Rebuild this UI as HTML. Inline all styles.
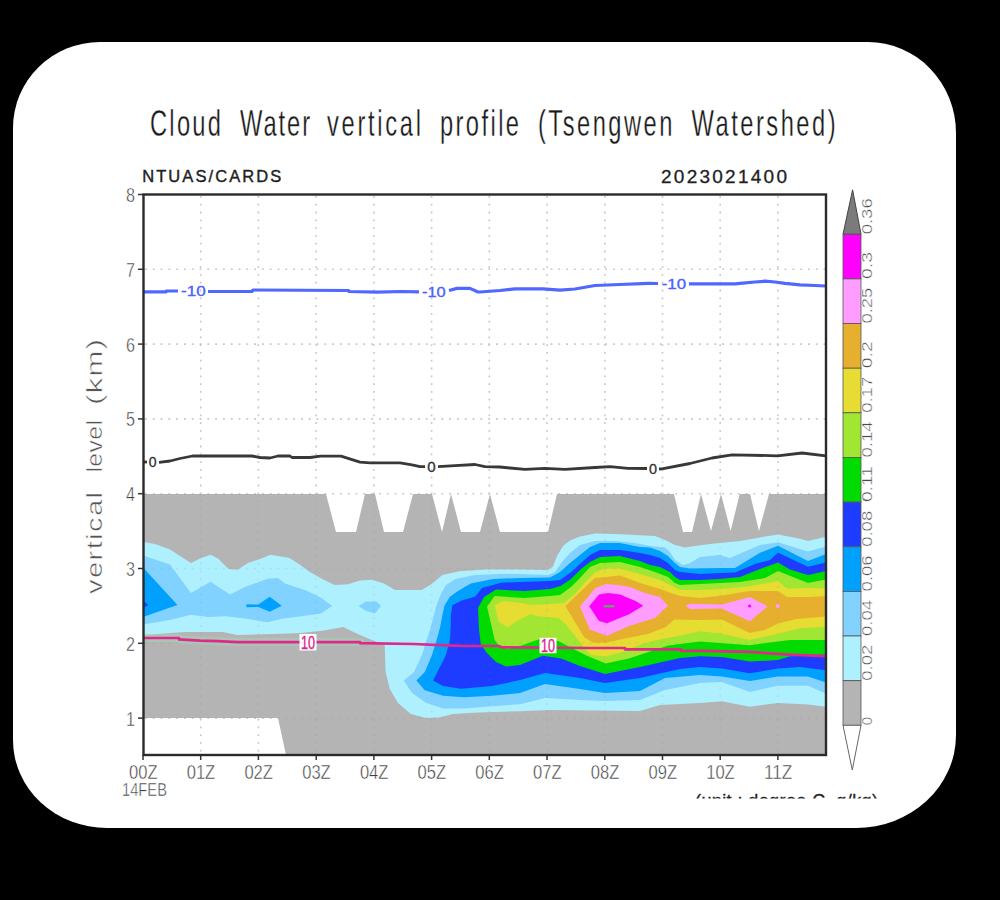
<!DOCTYPE html>
<html><head><meta charset="utf-8"><style>
html,body{margin:0;padding:0;background:#000;width:1000px;height:900px;overflow:hidden}
#card{position:absolute;left:13px;top:42px;width:943px;height:786px;background:#fff;border-radius:87px 88px 100px 94px / 86px 91px 93px 88px}
svg{position:absolute;left:0;top:0}
text{font-family:"Liberation Sans",sans-serif}
</style></head><body>
<div id="card"></div>
<svg width="1000" height="900" viewBox="0 0 1000 900">
<g stroke="#d6d6d6" stroke-width="1.6" stroke-dasharray="1.8 6" ><line x1="200.7" y1="196" x2="200.7" y2="754" /><line x1="258.4" y1="196" x2="258.4" y2="754" /><line x1="316.2" y1="196" x2="316.2" y2="754" /><line x1="373.9" y1="196" x2="373.9" y2="754" /><line x1="431.6" y1="196" x2="431.6" y2="754" /><line x1="489.3" y1="196" x2="489.3" y2="754" /><line x1="547.0" y1="196" x2="547.0" y2="754" /><line x1="604.8" y1="196" x2="604.8" y2="754" /><line x1="662.5" y1="196" x2="662.5" y2="754" /><line x1="720.2" y1="196" x2="720.2" y2="754" /><line x1="777.9" y1="196" x2="777.9" y2="754" /><line x1="145" y1="718.1" x2="825" y2="718.1" /><line x1="145" y1="643.3" x2="825" y2="643.3" /><line x1="145" y1="568.5" x2="825" y2="568.5" /><line x1="145" y1="493.7" x2="825" y2="493.7" /><line x1="145" y1="418.9" x2="825" y2="418.9" /><line x1="145" y1="344.1" x2="825" y2="344.1" /><line x1="145" y1="269.3" x2="825" y2="269.3" /></g>
<polygon points="143.0,494.0 326.0,494.0 336.0,532.0 356.0,532.0 365.0,494.0 375.0,494.0 384.0,532.0 403.0,532.0 413.0,494.0 432.0,494.0 442.0,532.0 451.0,494.0 461.0,532.0 480.0,532.0 490.0,494.0 500.0,532.0 548.0,532.0 557.0,494.0 674.0,494.0 683.0,532.0 692.0,532.0 701.0,494.0 711.0,531.0 721.0,494.0 730.6,531.0 739.7,494.0 750.0,494.0 759.0,531.0 769.0,494.0 826.0,494.0 826.0,755.0 286.0,755.0 278.0,718.0 143.0,718.0" fill="#b4b4b4"/>
<polygon points="143.0,542.0 155.0,544.0 170.0,549.5 191.0,563.0 200.0,558.5 210.5,554.7 218.0,558.5 228.5,569.0 237.5,569.7 248.0,563.0 260.0,559.0 270.4,554.7 289.5,558.0 300.0,564.7 309.0,571.5 319.5,577.5 334.5,585.0 348.0,584.2 360.0,580.5 372.0,579.7 384.0,583.5 395.0,590.0 421.6,590.0 431.0,584.6 442.4,575.0 459.4,571.3 486.0,569.5 520.0,569.5 548.0,570.0 553.0,566.5 557.0,556.0 563.0,546.0 570.0,540.5 580.0,536.5 595.0,533.5 615.0,534.0 635.0,535.0 655.0,536.0 665.0,540.0 675.0,545.0 685.0,547.5 695.0,546.0 710.0,544.0 720.0,543.0 740.0,541.0 760.0,537.4 778.0,534.6 800.0,538.8 808.0,541.0 826.0,536.7 826.0,706.7 808.0,704.4 777.8,702.9 749.8,706.7 721.8,701.3 700.0,703.0 660.0,705.0 640.0,711.0 550.0,710.0 520.0,711.2 478.0,712.6 453.0,714.0 439.0,717.5 426.0,718.0 410.8,714.0 398.0,703.0 389.8,689.0 385.6,672.0 384.7,645.0 367.5,638.2 355.5,633.0 343.5,627.0 322.5,630.7 300.0,633.0 290.0,633.4 237.5,635.0 222.5,632.0 185.0,632.0 143.0,635.0" fill="#aff0ff"/>
<polygon points="143.0,555.5 170.0,564.5 191.0,593.0 210.5,581.7 230.0,594.5 245.0,587.0 267.4,578.7 278.0,578.0 285.0,583.5 307.5,591.0 321.0,597.7 332.2,606.0 321.0,613.5 300.0,616.5 282.0,618.7 267.4,622.2 245.0,618.5 225.5,616.2 207.5,617.0 191.0,614.7 170.0,620.0 143.0,624.5" fill="#82d2ff"/>
<polygon points="358.5,606.0 366.0,601.5 376.4,601.5 381.0,606.0 375.0,613.5 366.0,611.0" fill="#82d2ff"/>
<polygon points="433.7,616.0 436.8,604.5 440.7,594.3 446.0,585.0 455.6,578.9 474.5,575.0 500.0,574.0 520.0,574.0 548.0,575.0 555.0,572.0 562.0,562.0 570.0,553.0 580.0,545.0 595.0,541.0 615.0,541.0 635.0,543.0 650.0,546.0 665.0,547.5 670.0,552.0 675.0,560.0 683.0,565.0 690.0,563.0 700.0,557.0 720.0,555.0 730.0,558.0 760.0,545.0 778.0,542.3 808.0,551.4 826.0,546.5 826.0,693.5 808.0,685.8 777.8,685.8 749.8,692.0 721.8,681.9 700.0,683.0 665.0,690.0 640.0,700.0 605.0,701.0 580.0,700.0 545.0,698.0 520.0,704.2 492.0,706.3 464.0,708.4 443.0,708.4 426.0,702.8 412.0,693.0 403.8,680.4 414.0,672.0 422.0,655.0 426.7,639.5 430.6,627.8" fill="#82d2ff"/>
<polygon points="143.0,567.5 177.5,605.0 143.0,617.0" fill="#00a0ff"/>
<polygon points="246.4,604.2 258.4,604.5 269.7,596.7 281.7,605.7 269.7,611.7 258.4,607.0 246.4,607.2" fill="#00a0ff"/>
<polygon points="442.2,616.0 444.6,605.2 450.0,596.7 458.0,591.0 470.7,583.5 493.4,578.9 520.0,578.0 550.0,577.5 560.0,572.0 570.0,563.0 580.0,555.0 590.0,547.0 600.0,543.0 620.0,543.0 640.0,547.0 650.0,547.5 660.0,551.0 668.0,556.0 675.0,563.0 680.0,567.0 690.0,568.5 720.0,568.0 735.0,568.0 760.0,552.8 778.0,545.8 808.0,561.0 826.0,554.0 826.0,682.6 808.0,676.4 777.8,676.4 749.8,681.0 721.8,676.4 700.0,675.0 665.0,678.0 640.0,691.0 605.0,693.0 580.0,689.0 545.0,684.0 520.0,693.0 492.0,695.8 464.0,697.2 443.0,695.8 424.8,690.2 416.4,680.4 424.8,672.0 432.0,655.0 436.8,639.5 440.0,627.8" fill="#00a0ff"/>
<polygon points="143.0,600.5 148.2,605.0 143.0,608.0" fill="#1e3cff"/>
<polygon points="450.8,616.0 452.4,605.2 461.7,600.6 475.0,596.7 482.0,588.0 501.0,582.7 520.0,582.0 550.0,581.0 560.0,580.0 570.0,573.0 580.0,564.0 590.0,555.0 600.0,550.0 620.0,550.0 640.0,553.0 650.0,555.0 660.0,558.0 668.0,563.0 675.0,570.0 680.0,572.0 700.0,574.0 720.0,573.0 735.0,572.4 755.0,564.0 770.0,560.0 778.0,552.8 808.0,566.8 826.0,562.6 826.0,670.2 800.0,667.0 777.8,668.6 749.8,673.3 721.8,668.6 700.0,667.0 680.0,669.0 640.0,678.0 605.0,683.0 580.0,678.0 545.0,673.0 520.0,680.0 492.0,686.0 461.0,688.8 443.0,686.0 433.2,680.4 446.0,655.0 450.0,639.5 450.8,625.0" fill="#1e3cff"/>
<polygon points="478.0,608.0 484.0,597.0 496.0,589.5 524.6,591.0 550.0,589.0 560.5,586.0 571.0,579.0 581.0,569.0 590.0,562.0 600.0,557.0 620.0,556.0 640.0,561.0 650.0,565.0 660.0,567.0 670.0,572.0 675.0,577.0 680.0,580.0 700.0,580.0 720.0,579.0 740.0,577.0 760.0,569.0 778.0,562.6 790.0,569.6 808.0,575.0 826.0,571.0 826.0,654.6 790.0,656.2 777.8,660.0 749.8,661.6 721.8,657.0 700.0,656.2 680.0,658.0 640.0,667.0 605.0,674.0 580.0,666.0 561.0,658.4 542.8,655.8 520.0,665.0 506.0,666.4 496.0,662.0 486.4,652.4 480.8,644.0 479.0,630.0" fill="#00dc00"/>
<polygon points="487.0,606.4 494.7,596.0 524.6,598.0 550.0,596.0 560.0,595.0 571.0,587.0 580.0,578.0 590.0,567.0 600.0,563.0 620.0,562.0 640.0,567.0 655.0,572.0 668.0,577.0 675.0,583.0 680.0,585.0 700.0,584.0 740.0,582.0 765.0,578.0 778.0,571.0 808.0,583.0 826.0,579.4 826.0,639.9 790.0,639.9 777.8,641.4 749.8,645.3 700.0,641.4 668.0,645.4 648.5,652.0 629.0,658.4 605.6,663.6 587.0,655.8 574.0,649.3 558.4,641.0 540.0,639.0 520.0,646.0 509.0,649.0 500.0,647.0 494.7,640.0" fill="#a0e632"/>
<polygon points="494.7,605.0 503.8,601.0 522.0,603.0 529.8,605.0 550.0,604.0 564.0,603.0 574.5,594.4 585.0,582.5 595.5,572.0 606.0,568.5 620.0,568.5 640.0,574.0 660.0,580.0 670.0,585.0 680.0,590.0 700.0,590.0 721.8,589.0 749.8,586.2 777.8,581.0 787.0,588.6 808.0,588.0 826.0,588.5 826.0,626.7 800.0,628.2 777.8,633.7 749.8,639.9 721.8,633.7 700.0,631.3 673.2,637.0 661.5,639.0 642.0,644.0 622.5,652.0 605.6,656.5 590.0,654.5 584.4,648.0 566.0,624.6 558.4,618.0 537.6,616.2 529.8,614.2 515.5,622.0 507.7,627.2 498.6,622.0" fill="#e6dc32"/>
<polygon points="565.4,606.3 580.0,592.0 595.0,578.0 606.0,577.0 620.0,575.5 640.0,583.0 660.0,589.0 668.0,592.0 680.0,596.0 700.0,598.0 721.8,595.5 749.8,590.9 777.8,590.9 787.0,597.1 808.9,597.0 826.0,596.3 826.0,616.5 796.4,618.9 777.8,623.5 765.3,629.8 749.8,632.9 721.8,619.5 700.0,620.0 674.5,619.4 665.4,627.2 648.5,633.7 622.5,639.0 605.6,642.8 593.5,642.8 584.4,637.6 575.0,622.0" fill="#e6af2d"/>
<polygon points="580.0,606.3 595.5,588.0 606.0,584.0 620.0,585.3 630.0,587.0 645.0,593.0 660.0,597.0 668.0,605.8 655.0,618.0 629.0,626.0 607.0,635.7 590.0,629.8 584.0,616.0" fill="#ff9cff"/>
<polygon points="685.6,605.8 690.0,603.8 721.8,604.5 749.8,597.1 767.7,606.4 749.8,621.2 721.8,608.5 690.0,609.0" fill="#ff9cff"/>
<circle cx="777.8" cy="606" r="2" fill="#ff9cff"/>
<polygon points="589.2,606.3 599.0,594.4 608.0,593.0 620.0,594.4 635.5,601.0 643.3,605.8 629.0,614.2 607.0,623.3 599.0,621.0" fill="#ff00ff"/>
<circle cx="749.6" cy="606" r="1.6" fill="#ff00ff"/>
<rect x="603.5" y="605" width="11" height="2.6" rx="1.2" fill="#6f9872"/>
<g stroke="#808080" stroke-width="1.6" stroke-dasharray="1.8 6" opacity="0.15"><line x1="200.7" y1="196" x2="200.7" y2="754" /><line x1="258.4" y1="196" x2="258.4" y2="754" /><line x1="316.2" y1="196" x2="316.2" y2="754" /><line x1="373.9" y1="196" x2="373.9" y2="754" /><line x1="431.6" y1="196" x2="431.6" y2="754" /><line x1="489.3" y1="196" x2="489.3" y2="754" /><line x1="547.0" y1="196" x2="547.0" y2="754" /><line x1="604.8" y1="196" x2="604.8" y2="754" /><line x1="662.5" y1="196" x2="662.5" y2="754" /><line x1="720.2" y1="196" x2="720.2" y2="754" /><line x1="777.9" y1="196" x2="777.9" y2="754" /><line x1="145" y1="718.1" x2="825" y2="718.1" /><line x1="145" y1="643.3" x2="825" y2="643.3" /><line x1="145" y1="568.5" x2="825" y2="568.5" /><line x1="145" y1="493.7" x2="825" y2="493.7" /><line x1="145" y1="418.9" x2="825" y2="418.9" /><line x1="145" y1="344.1" x2="825" y2="344.1" /><line x1="145" y1="269.3" x2="825" y2="269.3" /></g>
<polyline points="143.0,291.9 166.0,291.9 166.0,291.0 178.0,291.0" fill="none" stroke="#5068ff" stroke-width="3.2" stroke-linejoin="round"/>
<polyline points="208.0,291.5 252.0,291.5 253.0,290.0 348.5,290.5 349.0,291.5 378.0,292.2 401.0,291.5 419.0,291.9" fill="none" stroke="#5068ff" stroke-width="3.2" stroke-linejoin="round"/>
<polyline points="449.0,290.5 457.0,288.4 470.0,288.4 478.0,292.0 480.0,292.0 500.0,290.5 515.0,288.8 543.0,288.8 560.0,290.2 575.0,289.0 595.0,285.5 620.0,284.5 648.0,283.3 658.0,283.5" fill="none" stroke="#5068ff" stroke-width="3.2" stroke-linejoin="round"/>
<polyline points="689.0,283.9 735.0,283.9 740.0,283.4 755.0,282.0 765.0,281.2 775.0,282.0 785.0,283.4 800.0,284.8 815.0,285.5 826.0,286.0" fill="none" stroke="#5068ff" stroke-width="3.2" stroke-linejoin="round"/>
<polyline points="143.0,462.0 147.0,462.0" fill="none" stroke="#383838" stroke-width="2.8" stroke-linejoin="round"/>
<polyline points="159.0,462.3 170.0,461.0 180.0,458.5 192.5,456.0 252.0,456.0 260.0,457.5 270.0,458.0 278.0,456.0 290.0,456.0 292.0,457.5 310.0,457.5 320.5,456.1 341.0,456.1 360.0,462.2 370.0,462.8 400.0,462.8 412.0,464.9 420.0,466.6 425.0,466.6" fill="none" stroke="#383838" stroke-width="2.8" stroke-linejoin="round"/>
<polyline points="438.0,466.6 455.0,465.6 475.0,464.5 485.0,466.6 500.0,467.0 510.0,468.0 525.0,469.4 545.0,468.3 565.0,469.4 595.0,467.5 610.0,466.6 628.0,468.3 647.0,468.5" fill="none" stroke="#383838" stroke-width="2.8" stroke-linejoin="round"/>
<polyline points="659.0,469.0 662.0,468.8 690.0,463.5 712.0,458.0 732.0,454.8 777.5,455.8 802.0,453.0 826.0,455.8" fill="none" stroke="#383838" stroke-width="2.8" stroke-linejoin="round"/>
<g opacity="0.4"><polyline points="143.0,638.0 179.0,638.0 179.0,639.4 200.0,640.6 218.0,641.2 237.5,642.1 360.0,642.0 360.0,643.2" fill="none" stroke="#9fdcb4" stroke-width="8" stroke-linejoin="round"/></g>
<polyline points="143.0,638.0 179.0,638.0 179.0,639.4 200.0,640.6 218.0,641.2 237.5,642.1 360.0,642.0 360.0,643.2 413.6,644.0 445.8,645.4 464.0,646.0 499.0,646.0 502.0,647.4 590.0,648.0 625.0,648.0 625.0,649.3 681.0,649.3 681.0,651.0 700.0,650.8 750.0,651.9 777.0,653.9 790.0,654.6 826.0,656.2" fill="none" stroke="#e0288c" stroke-width="2.7" stroke-linejoin="round"/>
<text x="181.0" y="296.0" font-size="14.5" fill="#4a62ff" stroke="#4a62ff" stroke-width="0.35" textLength="24.7" lengthAdjust="spacingAndGlyphs">-10</text>
<text x="422.0" y="297.1" font-size="14.5" fill="#4a62ff" stroke="#4a62ff" stroke-width="0.35" textLength="23.7" lengthAdjust="spacingAndGlyphs">-10</text>
<text x="661.7" y="289.1" font-size="14.5" fill="#4a62ff" stroke="#4a62ff" stroke-width="0.35" textLength="24.3" lengthAdjust="spacingAndGlyphs">-10</text>
<text x="148.8" y="467.4" font-size="15" fill="#333" stroke="#333" stroke-width="0.35" textLength="7.8" lengthAdjust="spacingAndGlyphs">0</text>
<text x="427.3" y="472.0" font-size="15" fill="#333" stroke="#333" stroke-width="0.35" textLength="8.4" lengthAdjust="spacingAndGlyphs">0</text>
<text x="649.0" y="473.9" font-size="15" fill="#333" stroke="#333" stroke-width="0.35" textLength="8" lengthAdjust="spacingAndGlyphs">0</text>
<rect x="299.5" y="634.0" width="17.0" height="16.5" fill="#fff"/><text x="301.0" y="648.8" font-size="18" fill="#e0208c" stroke="#e0208c" stroke-width="0.35" textLength="14" lengthAdjust="spacingAndGlyphs">10</text>
<rect x="539.5" y="637.8" width="17.0" height="15.5" fill="#fff"/><text x="541.0" y="652.0" font-size="18" fill="#e0208c" stroke="#e0208c" stroke-width="0.35" textLength="14" lengthAdjust="spacingAndGlyphs">10</text>
<g stroke="#333" stroke-width="1.5"><line x1="143.0" y1="755" x2="143.0" y2="760"/><line x1="200.7" y1="755" x2="200.7" y2="760"/><line x1="258.4" y1="755" x2="258.4" y2="760"/><line x1="316.2" y1="755" x2="316.2" y2="760"/><line x1="373.9" y1="755" x2="373.9" y2="760"/><line x1="431.6" y1="755" x2="431.6" y2="760"/><line x1="489.3" y1="755" x2="489.3" y2="760"/><line x1="547.0" y1="755" x2="547.0" y2="760"/><line x1="604.8" y1="755" x2="604.8" y2="760"/><line x1="662.5" y1="755" x2="662.5" y2="760"/><line x1="720.2" y1="755" x2="720.2" y2="760"/><line x1="777.9" y1="755" x2="777.9" y2="760"/><line x1="138" y1="718.1" x2="143" y2="718.1"/><line x1="138" y1="643.3" x2="143" y2="643.3"/><line x1="138" y1="568.5" x2="143" y2="568.5"/><line x1="138" y1="493.7" x2="143" y2="493.7"/><line x1="138" y1="418.9" x2="143" y2="418.9"/><line x1="138" y1="344.1" x2="143" y2="344.1"/><line x1="138" y1="269.3" x2="143" y2="269.3"/><line x1="138" y1="194.5" x2="143" y2="194.5"/></g>
<rect x="143.5" y="194.5" width="682.5" height="560.5" fill="none" stroke="#2a2a2a" stroke-width="2.4"/>
<g fill="#3e3e3e" stroke="#fff" stroke-width="0.45" font-family="Liberation Sans, sans-serif"><text x="126" y="725.5" font-size="20" textLength="9" lengthAdjust="spacingAndGlyphs">1</text><text x="126" y="650.7" font-size="20" textLength="9" lengthAdjust="spacingAndGlyphs">2</text><text x="126" y="575.9" font-size="20" textLength="9" lengthAdjust="spacingAndGlyphs">3</text><text x="126" y="501.1" font-size="20" textLength="9" lengthAdjust="spacingAndGlyphs">4</text><text x="126" y="426.3" font-size="20" textLength="9" lengthAdjust="spacingAndGlyphs">5</text><text x="126" y="351.5" font-size="20" textLength="9" lengthAdjust="spacingAndGlyphs">6</text><text x="126" y="276.7" font-size="20" textLength="9" lengthAdjust="spacingAndGlyphs">7</text><text x="126" y="201.9" font-size="20" textLength="9" lengthAdjust="spacingAndGlyphs">8</text><text x="129.0" y="779.2" font-size="20" textLength="28.5" lengthAdjust="spacingAndGlyphs">00Z</text><text x="186.7" y="779.2" font-size="20" textLength="28.5" lengthAdjust="spacingAndGlyphs">01Z</text><text x="244.4" y="779.2" font-size="20" textLength="28.5" lengthAdjust="spacingAndGlyphs">02Z</text><text x="302.2" y="779.2" font-size="20" textLength="28.5" lengthAdjust="spacingAndGlyphs">03Z</text><text x="359.9" y="779.2" font-size="20" textLength="28.5" lengthAdjust="spacingAndGlyphs">04Z</text><text x="417.6" y="779.2" font-size="20" textLength="28.5" lengthAdjust="spacingAndGlyphs">05Z</text><text x="475.3" y="779.2" font-size="20" textLength="28.5" lengthAdjust="spacingAndGlyphs">06Z</text><text x="533.0" y="779.2" font-size="20" textLength="28.5" lengthAdjust="spacingAndGlyphs">07Z</text><text x="590.8" y="779.2" font-size="20" textLength="28.5" lengthAdjust="spacingAndGlyphs">08Z</text><text x="648.5" y="779.2" font-size="20" textLength="28.5" lengthAdjust="spacingAndGlyphs">09Z</text><text x="706.2" y="779.2" font-size="20" textLength="28.5" lengthAdjust="spacingAndGlyphs">10Z</text><text x="763.9" y="779.2" font-size="20" textLength="28.5" lengthAdjust="spacingAndGlyphs">11Z</text><text x="122" y="795.8" font-size="17.5" textLength="45" lengthAdjust="spacingAndGlyphs">14FEB</text></g>
<text transform="translate(150,136) scale(0.64,1)" x="0" y="0" font-size="37" fill="#1a1a1a" stroke="#fff" stroke-width="0.3" textLength="110.9" lengthAdjust="spacing">Cloud</text>
<text transform="translate(240,136) scale(0.64,1)" x="0" y="0" font-size="37" fill="#1a1a1a" stroke="#fff" stroke-width="0.3" textLength="109.4" lengthAdjust="spacing">Water</text>
<text transform="translate(327,136) scale(0.64,1)" x="0" y="0" font-size="37" fill="#1a1a1a" stroke="#fff" stroke-width="0.3" textLength="146.9" lengthAdjust="spacing">vertical</text>
<text transform="translate(440,136) scale(0.64,1)" x="0" y="0" font-size="37" fill="#1a1a1a" stroke="#fff" stroke-width="0.3" textLength="123.4" lengthAdjust="spacing">profile</text>
<text transform="translate(538,136) scale(0.64,1)" x="0" y="0" font-size="37" fill="#1a1a1a" stroke="#fff" stroke-width="0.3" textLength="210.0" lengthAdjust="spacing">(Tsengwen</text>
<text transform="translate(691.6,136) scale(0.64,1)" x="0" y="0" font-size="37" fill="#1a1a1a" stroke="#fff" stroke-width="0.3" textLength="225.0" lengthAdjust="spacing">Watershed)</text>
<text x="142.2" y="182.4" font-size="16.5" fill="#222" stroke="#222" stroke-width="0.4" textLength="139" lengthAdjust="spacing">NTUAS/CARDS</text>
<text x="661" y="183.2" font-size="19" fill="#222" stroke="#222" stroke-width="0.3" textLength="126" lengthAdjust="spacing">2023021400</text>
<text transform="translate(101.7,594.0) rotate(-90) scale(1.3,1)" font-size="22.5" fill="#555" stroke="#fff" stroke-width="0.5" textLength="78.5" lengthAdjust="spacing">vertical</text>
<text transform="translate(101.7,472.6) rotate(-90) scale(1.1,1)" font-size="22.5" fill="#555" stroke="#fff" stroke-width="0.5" textLength="47.8" lengthAdjust="spacing">level</text>
<text transform="translate(101.7,405.0) rotate(-90) scale(1.4,1)" font-size="22.5" fill="#555" stroke="#fff" stroke-width="0.5" textLength="47.1" lengthAdjust="spacing">(km)</text>
<polygon points="843,234.3 852.6,189.8 861,234.3" fill="#7b7b7b" stroke="#444" stroke-width="1"/><rect x="843" y="234.3" width="18" height="44.6" fill="#ff00ff" stroke="#555" stroke-width="0.8"/><rect x="843" y="278.9" width="18" height="44.6" fill="#ff9cff" stroke="#555" stroke-width="0.8"/><rect x="843" y="323.6" width="18" height="44.6" fill="#e6af2d" stroke="#555" stroke-width="0.8"/><rect x="843" y="368.2" width="18" height="44.6" fill="#e6dc32" stroke="#555" stroke-width="0.8"/><rect x="843" y="412.8" width="18" height="44.6" fill="#a0e632" stroke="#555" stroke-width="0.8"/><rect x="843" y="457.5" width="18" height="44.6" fill="#00dc00" stroke="#555" stroke-width="0.8"/><rect x="843" y="502.1" width="18" height="44.6" fill="#1e3cff" stroke="#555" stroke-width="0.8"/><rect x="843" y="546.8" width="18" height="44.6" fill="#00a0ff" stroke="#555" stroke-width="0.8"/><rect x="843" y="591.4" width="18" height="44.6" fill="#82d2ff" stroke="#555" stroke-width="0.8"/><rect x="843" y="636.0" width="18" height="44.6" fill="#aff0ff" stroke="#555" stroke-width="0.8"/><rect x="843" y="680.7" width="18" height="44.6" fill="#b4b4b4" stroke="#555" stroke-width="0.8"/><polygon points="843,725.3 852.3,770 861,725.3" fill="#fff" stroke="#666" stroke-width="1"/><text transform="translate(872,234.3) rotate(-90)" font-size="14.5" fill="#4a4a4a" stroke="#fff" stroke-width="0.4" textLength="36" lengthAdjust="spacingAndGlyphs">0.36</text><text transform="translate(872,278.9) rotate(-90)" font-size="14.5" fill="#4a4a4a" stroke="#fff" stroke-width="0.4" textLength="27" lengthAdjust="spacingAndGlyphs">0.3</text><text transform="translate(872,323.6) rotate(-90)" font-size="14.5" fill="#4a4a4a" stroke="#fff" stroke-width="0.4" textLength="36" lengthAdjust="spacingAndGlyphs">0.25</text><text transform="translate(872,368.2) rotate(-90)" font-size="14.5" fill="#4a4a4a" stroke="#fff" stroke-width="0.4" textLength="27" lengthAdjust="spacingAndGlyphs">0.2</text><text transform="translate(872,412.8) rotate(-90)" font-size="14.5" fill="#4a4a4a" stroke="#fff" stroke-width="0.4" textLength="36" lengthAdjust="spacingAndGlyphs">0.17</text><text transform="translate(872,457.5) rotate(-90)" font-size="14.5" fill="#4a4a4a" stroke="#fff" stroke-width="0.4" textLength="36" lengthAdjust="spacingAndGlyphs">0.14</text><text transform="translate(872,502.1) rotate(-90)" font-size="14.5" fill="#4a4a4a" stroke="#fff" stroke-width="0.4" textLength="36" lengthAdjust="spacingAndGlyphs">0.11</text><text transform="translate(872,546.8) rotate(-90)" font-size="14.5" fill="#4a4a4a" stroke="#fff" stroke-width="0.4" textLength="36" lengthAdjust="spacingAndGlyphs">0.08</text><text transform="translate(872,591.4) rotate(-90)" font-size="14.5" fill="#4a4a4a" stroke="#fff" stroke-width="0.4" textLength="36" lengthAdjust="spacingAndGlyphs">0.06</text><text transform="translate(872,636.0) rotate(-90)" font-size="14.5" fill="#4a4a4a" stroke="#fff" stroke-width="0.4" textLength="36" lengthAdjust="spacingAndGlyphs">0.04</text><text transform="translate(872,680.7) rotate(-90)" font-size="14.5" fill="#4a4a4a" stroke="#fff" stroke-width="0.4" textLength="36" lengthAdjust="spacingAndGlyphs">0.02</text><text transform="translate(872,725.3) rotate(-90)" font-size="14.5" fill="#4a4a4a" stroke="#fff" stroke-width="0.4" textLength="8.4" lengthAdjust="spacingAndGlyphs">0</text>
<clipPath id="cl"><rect x="600" y="780" width="300" height="18.6"/></clipPath>
<text clip-path="url(#cl)" x="695" y="807.3" font-size="18" fill="#222" stroke="#222" stroke-width="0.3" textLength="183" lengthAdjust="spacing">(unit : degree C, g/kg)</text>
</svg>
</body></html>
